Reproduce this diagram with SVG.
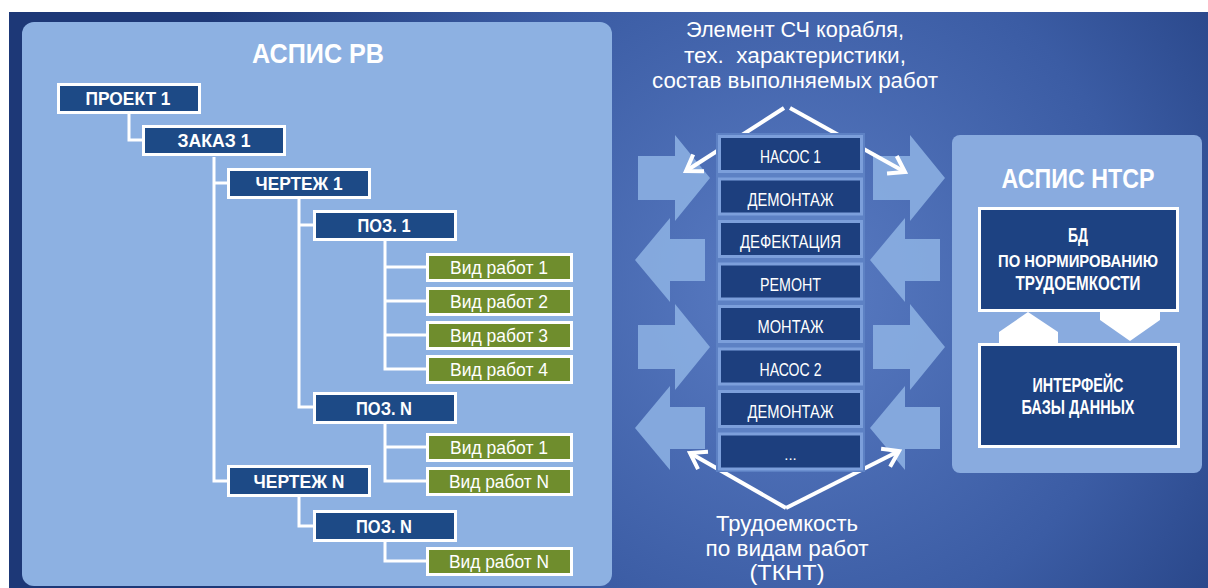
<svg xmlns="http://www.w3.org/2000/svg" width="1208" height="588" viewBox="0 0 1208 588">
<defs>
<radialGradient id="bgg" cx="790" cy="290" r="640" gradientUnits="userSpaceOnUse">
<stop offset="0" stop-color="#5a7cc3"/>
<stop offset="0.55" stop-color="#3b5ca4"/>
<stop offset="1" stop-color="#1d3877"/>
</radialGradient>
<marker id="chev" viewBox="0 0 24 24" refX="21" refY="12" markerWidth="24" markerHeight="24" markerUnits="userSpaceOnUse" orient="auto">
<path d="M6,2 L21,12 L6,22" fill="none" stroke="#fff" stroke-width="4"/>
</marker>
<style>
.t{font-family:"Liberation Sans",Arial,sans-serif;fill:#fff;text-anchor:middle}
.b{font-weight:bold}
.dk{fill:#1d4a86;stroke:#fff;stroke-width:3}
.gr{fill:#6f8d2d;stroke:#fff;stroke-width:3}
.ls{fill:#1d3f7e;stroke:#7c9fdb;stroke-width:3}
.rb{fill:#1d4282;stroke:#fff;stroke-width:3}
.ln{stroke:#fff;stroke-width:3;fill:none}
.big{fill:#8cb0e2;opacity:0.88}
.wa{stroke:#fff;stroke-width:4;fill:none;marker-end:url(#chev)}
.tr{font-size:19px}
.vr{font-size:19px}
.li{font-size:18px}
.rt{font-size:20px}
</style>
</defs>
<rect x="0" y="0" width="1208" height="588" fill="#fff"/>
<rect x="9" y="12" width="1199" height="576" fill="url(#bgg)"/>

<!-- left panel -->
<g id="panel-aspis-rv">
<rect x="22" y="22" width="590" height="564" rx="12" fill="#8db1e2"/>
<text class="t b" x="318" y="63" font-size="28" textLength="132" lengthAdjust="spacingAndGlyphs">АСПИС РВ</text>
</g>

<!-- big flow arrows -->
<g id="flow-arrows">
<polygon class="big" points="638,156 675,156 675,135 710,178 675,221 675,200 638,200"/>
<polygon class="big" points="638,325 675,325 675,304 710,347 675,390 675,369 638,369"/>
<polygon class="big" points="705,239 670,239 670,218 635,260 670,302 670,281 705,281"/>
<polygon class="big" points="705,407 670,407 670,386 635,428 670,470 670,449 705,449"/>
<polygon class="big" points="873,156 910,156 910,135 945,178 910,221 910,200 873,200"/>
<polygon class="big" points="873,325 910,325 910,304 945,347 910,390 910,369 873,369"/>
<polygon class="big" points="940,239 905,239 905,218 870,260 905,302 905,281 940,281"/>
<polygon class="big" points="940,407 905,407 905,386 870,428 905,470 905,449 940,449"/>
</g>

<!-- connectors -->
<g id="connectors">
<path class="ln" d="M129,114 V140 H142"/>
<path class="ln" d="M214,157 V481 H227 M214,183 H227"/>
<path class="ln" d="M299,199 V407 H313 M299,225 H313"/>
<path class="ln" d="M385,241 V369 H426 M385,267 H426 M385,301 H426 M385,335 H426"/>
<path class="ln" d="M385,423 V481 H426 M385,447 H426"/>
<path class="ln" d="M299,496 V526 H313"/>
<path class="ln" d="M385,541 V561 H426"/>
<path class="wa" d="M784,108 L686,171"/>
<path class="wa" d="M790,108 L905,172"/>
<path class="wa" d="M786,508 L690,453"/>
<path class="wa" d="M786,508 L899,451"/>
</g>

<!-- tree nodes -->
<g id="n-proekt1"><rect class="dk" x="58.5" y="84.5" width="141" height="28"/><text class="t b tr" x="128" y="105" textLength="85" lengthAdjust="spacingAndGlyphs">ПРОЕКТ 1</text></g>
<g id="n-zakaz1"><rect class="dk" x="143.5" y="126.5" width="141" height="28"/><text class="t b tr" x="214" y="147" textLength="73" lengthAdjust="spacingAndGlyphs">ЗАКАЗ 1</text></g>
<g id="n-chertezh1"><rect class="dk" x="228.5" y="169.5" width="141" height="28"/><text class="t b tr" x="299" y="190" textLength="87" lengthAdjust="spacingAndGlyphs">ЧЕРТЕЖ 1</text></g>
<g id="n-poz1"><rect class="dk" x="314.5" y="211.5" width="141" height="28"/><text class="t b tr" x="384" y="232" textLength="53" lengthAdjust="spacingAndGlyphs">ПОЗ. 1</text></g>
<g id="n-vr1a"><rect class="gr" x="427.5" y="254.5" width="144" height="26"/><text class="t vr" x="499" y="274" textLength="98" lengthAdjust="spacingAndGlyphs">Вид работ 1</text></g>
<g id="n-vr2"><rect class="gr" x="427.5" y="288.5" width="144" height="26"/><text class="t vr" x="499" y="308" textLength="98" lengthAdjust="spacingAndGlyphs">Вид работ 2</text></g>
<g id="n-vr3"><rect class="gr" x="427.5" y="322.5" width="144" height="26"/><text class="t vr" x="499" y="342" textLength="98" lengthAdjust="spacingAndGlyphs">Вид работ 3</text></g>
<g id="n-vr4"><rect class="gr" x="427.5" y="356.5" width="144" height="26"/><text class="t vr" x="499" y="376" textLength="98" lengthAdjust="spacingAndGlyphs">Вид работ 4</text></g>
<g id="n-pozN1"><rect class="dk" x="314.5" y="393.5" width="141" height="29"/><text class="t b tr" x="384" y="415" textLength="56" lengthAdjust="spacingAndGlyphs">ПОЗ. N</text></g>
<g id="n-vr1b"><rect class="gr" x="427.5" y="434.5" width="144" height="26"/><text class="t vr" x="499" y="454" textLength="98" lengthAdjust="spacingAndGlyphs">Вид работ 1</text></g>
<g id="n-vrNa"><rect class="gr" x="427.5" y="468.5" width="144" height="26"/><text class="t vr" x="499" y="488" textLength="100" lengthAdjust="spacingAndGlyphs">Вид работ N</text></g>
<g id="n-chertezhN"><rect class="dk" x="228.5" y="466.5" width="141" height="29"/><text class="t b tr" x="299" y="488" textLength="91" lengthAdjust="spacingAndGlyphs">ЧЕРТЕЖ N</text></g>
<g id="n-pozN2"><rect class="dk" x="314.5" y="511.5" width="141" height="29"/><text class="t b tr" x="384" y="533" textLength="56" lengthAdjust="spacingAndGlyphs">ПОЗ. N</text></g>
<g id="n-vrNb"><rect class="gr" x="427.5" y="548.5" width="144" height="26"/><text class="t vr" x="499" y="568" textLength="100" lengthAdjust="spacingAndGlyphs">Вид работ N</text></g>

<!-- middle texts -->
<g id="label-top">
<text class="t" x="795" y="37" font-size="22" textLength="218" lengthAdjust="spacingAndGlyphs">Элемент СЧ корабля,</text>
<text class="t" x="795" y="63" font-size="22" textLength="222" lengthAdjust="spacingAndGlyphs" xml:space="preserve">тех.  характеристики,</text>
<text class="t" x="795" y="88" font-size="22" textLength="286" lengthAdjust="spacingAndGlyphs">состав выполняемых работ</text>
</g>
<g id="label-bottom">
<text class="t" x="787" y="531" font-size="22" textLength="142" lengthAdjust="spacingAndGlyphs">Трудоемкость</text>
<text class="t" x="787" y="556" font-size="22" textLength="163" lengthAdjust="spacingAndGlyphs">по видам работ</text>
<text class="t" x="787" y="580" font-size="22" textLength="75" lengthAdjust="spacingAndGlyphs">(ТКНТ)</text>
</g>

<!-- middle list -->
<g id="list">
<rect x="716" y="133" width="149" height="339" fill="#5d81c4"/>
<g id="l-nasos1"><rect class="ls" x="719.5" y="136.5" width="142" height="35"/><text class="t li" x="790.5" y="163" textLength="61" lengthAdjust="spacingAndGlyphs">НАСОС 1</text></g>
<g id="l-demontazh1"><rect class="ls" x="719.5" y="179" width="142" height="35"/><text class="t li" x="790.5" y="205.5" textLength="86" lengthAdjust="spacingAndGlyphs">ДЕМОНТАЖ</text></g>
<g id="l-defektaciya"><rect class="ls" x="719.5" y="221.5" width="142" height="35"/><text class="t li" x="790.5" y="248" textLength="101" lengthAdjust="spacingAndGlyphs">ДЕФЕКТАЦИЯ</text></g>
<g id="l-remont"><rect class="ls" x="719.5" y="264" width="142" height="35"/><text class="t li" x="790.5" y="290.5" textLength="61" lengthAdjust="spacingAndGlyphs">РЕМОНТ</text></g>
<g id="l-montazh"><rect class="ls" x="719.5" y="306.5" width="142" height="35"/><text class="t li" x="790.5" y="333" textLength="66" lengthAdjust="spacingAndGlyphs">МОНТАЖ</text></g>
<g id="l-nasos2"><rect class="ls" x="719.5" y="349" width="142" height="35"/><text class="t li" x="790.5" y="375.5" textLength="62" lengthAdjust="spacingAndGlyphs">НАСОС 2</text></g>
<g id="l-demontazh2"><rect class="ls" x="719.5" y="391.5" width="142" height="35"/><text class="t li" x="790.5" y="418" textLength="86" lengthAdjust="spacingAndGlyphs">ДЕМОНТАЖ</text></g>
<g id="l-more"><rect class="ls" x="719.5" y="434" width="142" height="35"/><text class="t" x="790.5" y="460" font-size="15">...</text></g>
</g>

<!-- right panel -->
<g id="panel-aspis-ntsr">
<rect x="952" y="135" width="250" height="338" rx="8" fill="#89abdf"/>
<text class="t b" x="1078" y="188" font-size="27" textLength="153" lengthAdjust="spacingAndGlyphs">АСПИС НТСР</text>
</g>
<g id="n-bd">
<rect class="rb" x="979.5" y="208.5" width="198" height="102"/>
<text class="t b rt" x="1078" y="242" textLength="20" lengthAdjust="spacingAndGlyphs">БД</text>
<text class="t b" x="1078" y="267" font-size="17" textLength="160" lengthAdjust="spacingAndGlyphs">ПО НОРМИРОВАНИЮ</text>
<text class="t b rt" x="1078" y="290" textLength="125" lengthAdjust="spacingAndGlyphs">ТРУДОЕМКОСТИ</text>
</g>
<g id="n-interface">
<rect class="rb" x="979.5" y="344.5" width="199" height="102"/>
<text class="t b rt" x="1078" y="392" textLength="91" lengthAdjust="spacingAndGlyphs">ИНТЕРФЕЙС</text>
<text class="t b rt" x="1078" y="414" textLength="113" lengthAdjust="spacingAndGlyphs">БАЗЫ ДАННЫХ</text>
</g>
<g id="db-arrows">
<polygon points="999,344 999,332 1028,312 1058,332 1058,344" fill="#fff"/>
<polygon points="1100,311 1160,311 1160,320 1130,341 1100,320" fill="#fff"/>
</g>
</svg>
